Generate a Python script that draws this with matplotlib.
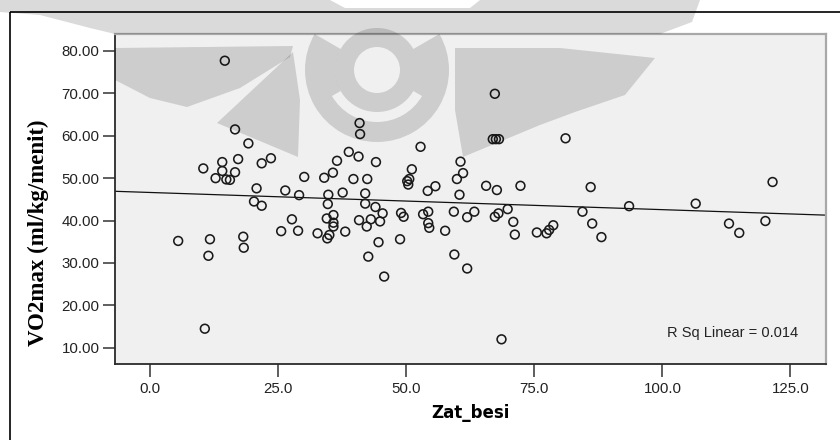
import numpy as np
import matplotlib
matplotlib.use('Agg')
import matplotlib.pyplot as plt
from matplotlib.patches import Polygon, Wedge, Rectangle
from matplotlib.transforms import Affine2D

plt.rcParams['font.family'] = ['Liberation Sans', 'DejaVu Sans']

# iron intake vs VO2max, one point per subject
zat_besi = [
    14.6, 16.6, 19.2, 10.4, 14.1, 17.2, 21.8, 23.6, 14.1, 16.6,
    12.8, 14.9, 15.6, 20.8, 20.3, 21.8, 26.4, 29.1, 30.1, 34.0,
    35.7, 36.5, 38.8, 40.7, 40.9, 41.0, 44.1, 39.7, 42.4, 50.2,
    50.4, 50.6, 51.1, 52.8, 34.8, 34.7, 37.6, 42.0, 42.0, 44.0,
    45.4, 49.0, 49.5, 53.3, 54.3, 54.3, 54.5, 54.2, 55.7, 59.9,
    60.6, 61.1, 60.4, 59.3, 61.9, 63.3, 65.6, 67.7, 72.3, 67.3,
    68.0, 69.8, 70.9, 71.2, 57.6, 59.4, 61.9, 68.6, 67.3, 66.9,
    67.5, 68.1, 81.1, 75.5, 77.4, 77.9, 78.7, 84.4, 86.0, 86.3,
    88.1, 93.5, 106.5, 113.0, 115.0, 120.1, 121.5, 10.7, 5.5, 11.7,
    11.4, 18.2, 18.3, 25.6, 28.9, 27.7, 32.7, 34.5, 35.8, 35.8,
    35.8, 35.0, 34.6, 38.1, 40.8, 43.1, 44.9, 42.3, 44.6, 48.8,
    42.6, 45.7,
]
vo2max = [
    77.7, 61.5, 58.2, 52.3, 53.8, 54.5, 53.5, 54.7, 51.7, 51.4,
    50.0, 49.7, 49.6, 47.6, 44.5, 43.5, 47.1, 46.0, 50.3, 50.1,
    51.3, 54.1, 56.2, 55.1, 63.0, 60.4, 53.8, 49.8, 49.8, 49.3,
    48.5, 49.8, 52.1, 57.4, 46.1, 43.9, 46.6, 46.4, 44.0, 43.2,
    41.7, 41.8, 40.9, 41.5, 42.1, 39.4, 38.3, 47.0, 48.1, 49.8,
    53.9, 51.2, 46.1, 42.1, 40.8, 42.1, 48.2, 47.2, 48.2, 40.9,
    41.7, 42.7, 39.7, 36.7, 37.6, 32.0, 28.7, 12.0, 69.9, 59.2,
    59.2, 59.2, 59.4, 37.2, 37.0, 37.8, 38.9, 42.1, 47.9, 39.3,
    36.1, 43.4, 44.0, 39.3, 37.1, 39.9, 49.1, 14.5, 35.2, 35.6,
    31.7, 36.2, 33.6, 37.5, 37.6, 40.3, 37.0, 40.5, 41.3, 39.5,
    38.6, 36.6, 35.8, 37.4, 40.1, 40.3, 39.8, 38.6, 34.9, 35.6,
    31.5, 26.8,
]

x_ticks = [0, 25, 50, 75, 100, 125]
y_ticks = [10, 20, 30, 40, 50, 60, 70, 80]
x_label = 'Zat_besi'
y_label = 'VO2max (ml/kg/menit)'
r_sq_label = 'R Sq Linear = 0.014'

W, H = 840, 440
fig = plt.figure(figsize=(W / 100, H / 100), dpi=100)
fig.patch.set_facecolor('white')

# pixel coordinates, origin top-left
px = Affine2D().scale(1 / W, -1 / H).translate(0, 1) + fig.transFigure

ax = fig.add_axes([115 / W, 76 / H, 711 / W, 330 / H])
ax.set_facecolor('#f0f0f0')

ax.scatter(zat_besi, vo2max, s=40, facecolors='none', edgecolors='#1a1a1a',
           linewidths=1.15, zorder=3)

ax.set_xlim(-6.83, 131.93)
ax.set_ylim(6.18, 84.0)

# linear fit across the full x range
slope, intercept = np.polyfit(zat_besi, vo2max, 1)
xl = np.array(ax.get_xlim())
ax.plot(xl, intercept + slope * xl, color='#111111', lw=0.9, zorder=2)

ax.set_xticks(x_ticks)
ax.set_xticklabels([f'{v:.1f}' for v in x_ticks])
ax.set_yticks(y_ticks)
ax.set_yticklabels([f'{v:.2f}' for v in y_ticks])
ax.tick_params(axis='both', direction='out', length=9, width=1.1,
               color='#333333', labelsize=10.8, labelcolor='#222222')
ax.tick_params(axis='y', pad=2)
ax.tick_params(axis='x', pad=4)

for side in ['left', 'bottom']:
    ax.spines[side].set_color('#2a2a2a')
    ax.spines[side].set_linewidth(1.3)
for side in ['top', 'right']:
    ax.spines[side].set_color('#a8a8a8')
    ax.spines[side].set_linewidth(1.6)

ax.set_xlabel(x_label, fontsize=12, fontweight='bold', family='DejaVu Sans')
ax.xaxis.set_label_coords(0.5, -0.121)
ax.set_ylabel(y_label, fontsize=16.5, fontweight='bold', family='Liberation Serif')
ax.yaxis.label.set_verticalalignment('center')
ax.yaxis.set_label_coords(-0.108, 0.397)

ax.text(0.776, 0.094, r_sq_label, transform=ax.transAxes, ha='left', va='center',
        fontsize=10.5, color='#222222')

# outer chart frame
fig.add_artist(Rectangle((10, 12), 900, 500, transform=px, fill=False,
                         edgecolor='black', lw=1.2, zorder=4))

# faint logo watermark printed over the page
wm = dict(transform=px, facecolor='black', edgecolor='none', alpha=0.145, zorder=6)
shapes = [
    Polygon([(0, 0), (330, 0), (345, 8), (470, 8), (480, 0), (700, 0), (692, 22),
             (660, 34), (115, 34), (90, 28), (40, 15), (0, 12)], **wm),
    Polygon([(115, 48), (293, 46), (290, 57), (240, 88), (187, 107), (150, 98),
             (115, 80)], **wm),
    Polygon([(217, 123), (293, 52), (300, 100), (298, 157)], **wm),
    Wedge((377, 70), 42, 0, 360, width=19, **wm),
    Wedge((377, 70), 72, 150, 210, width=30, **wm),
    Wedge((377, 70), 72, -30, 30, width=30, **wm),
    Wedge((377, 70), 72, 30, 150, width=20, **wm),
    Polygon([(455, 48), (560, 48), (655, 58), (625, 95), (575, 112), (540, 125),
             (463, 157), (455, 110)], **wm),
]
for s in shapes:
    fig.add_artist(s)

fig.savefig('out.png', dpi=100)
